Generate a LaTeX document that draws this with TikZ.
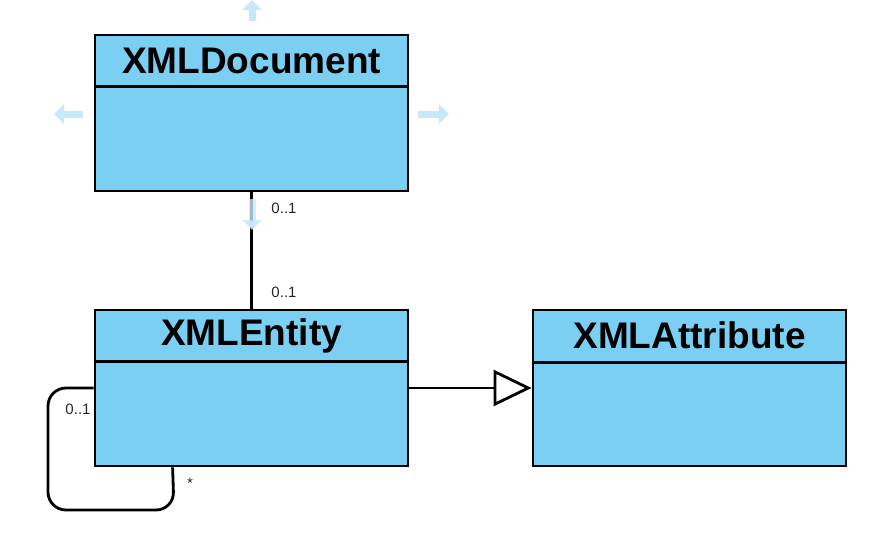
\documentclass[tikz,border=0pt]{standalone}
\usepackage{fontspec}
\setmainfont{Liberation Sans}
\usetikzlibrary{arrows.meta,calc}
\definecolor{clsfill}{HTML}{7BCFF3}
\definecolor{hint}{HTML}{C6E9FA}
\tikzset{
  cls/.style={draw=black, line width=2.8pt, fill=clsfill, minimum width=313pt, minimum height=156pt, inner sep=0pt},
  title/.style={font=\fontsize{37}{40}\selectfont\bfseries, text=black},
  mult/.style={font=\fontsize{15}{17}\selectfont, text=black!85, inner sep=0pt},
  conn/.style={draw=black, line width=2.8pt},
  hintarrow/.style={draw=hint, line width=7pt, -{Triangle[length=10pt,width=19pt]}},
}
\begin{document}
\begin{tikzpicture}[x=1pt,y=-1pt]
\useasboundingbox (0,0) rectangle (891,543);
% hint arrows
\coordinate (ht1) at (252,21); \coordinate (ht2) at (252,0);
\coordinate (hl1) at (83,114); \coordinate (hl2) at (54,114);
\coordinate (hr1) at (418,114); \coordinate (hr2) at (449,114);
\coordinate (hd1) at (252,199); \coordinate (hd2) at (252,230);
\draw[hintarrow] (ht1) -- (ht2);
\draw[hintarrow] (hl1) -- (hl2);
\draw[hintarrow] (hr1) -- (hr2);
% classes
\node[cls] (doc) at (251.5,113) {};
\node[cls] (ent) at (251.5,388) {};
\node[cls] (att) at (689.5,388) {};
\draw[conn] ($(doc.north west)+(0,53)$) coordinate (d1) -- ($(doc.north east)+(0,53)$);
\draw[conn] ($(ent.north west)+(0,53)$) -- ($(ent.north east)+(0,53)$);
\draw[conn] ($(att.north west)+(0,54)$) -- ($(att.north east)+(0,54)$);
\node[title] (tdoc) at ($(doc.north)+(0,27)$) {XMLDocument};
\node[title] (tent) at ($(ent.north)+(0,27)$) {XMLEntity};
\node[title] (tatt) at ($(att.north)+(0,27)$) {XMLAttribute};
% association
\draw[conn] (doc.south) -- (ent.north);
\draw[hintarrow, draw opacity=0.8] (hd1) -- (hd2);
\node[mult] (m1) at (284,208) {0..1};
\node[mult] (m2) at (284,292) {0..1};
% generalization
\draw[conn, -{Triangle[open,length=38pt,width=36pt,fill=white]}] (ent.east) -- (att.west);
% self association
\coordinate (lp1) at (48,388);
\coordinate (lp2) at (48,510);
\coordinate (lp3) at (174,510);
\coordinate (lp4) at ($(ent.south west)+(79,0)$);
\draw[conn, rounded corners=18pt] (ent.west) -- (lp1) -- (lp2) -- (lp3) -- (lp4);
\node[mult] (m3) at (78,409) {0..1};
\node[mult] (m4) at (190,483) {*};
\end{tikzpicture}
\end{document}
